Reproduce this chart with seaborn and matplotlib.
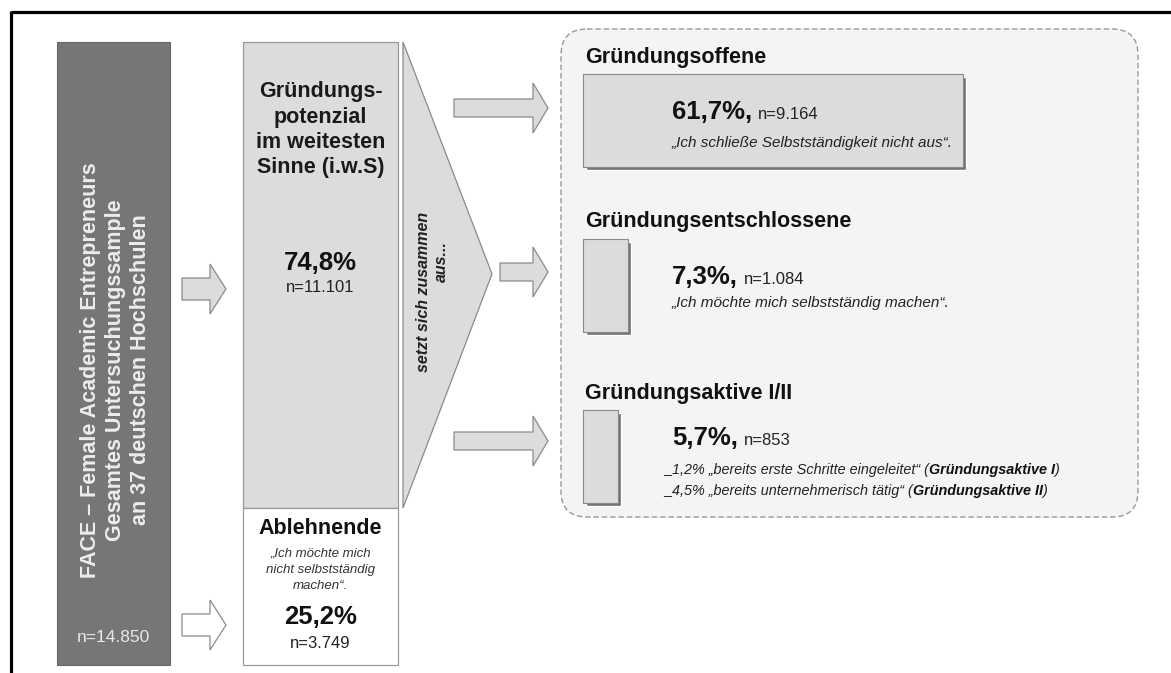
import matplotlib
matplotlib.use("Agg")
import matplotlib.pyplot as plt
from matplotlib.patches import Polygon, FancyBboxPatch
import seaborn as sns

# values
sample_lines = ["FACE – Female Academic Entrepreneurs",
                "Gesamtes Untersuchungssample",
                "an 37 deutschen Hochschulen"]
total_n = "14.850"

potential_lines = ["Gründungs-", "potenzial", "im weitesten", "Sinne (i.w.S)"]
potential_pct = 74.8
potential_n = "11.101"

reject_label = "Ablehnende"
reject_quote = ["„Ich möchte mich", "nicht selbstständig", "machen“."]
reject_pct = 25.2
reject_n = "3.749"

link_lines = ["setzt sich zusammen", "aus..."]

groups = ["Gründungsoffene", "Gründungsentschlossene", "Gründungsaktive I/II"]
group_pct = [61.7, 7.3, 5.7]
group_n = ["9.164", "1.084", "853"]
group_quotes = ["„Ich schließe Selbstständigkeit nicht aus“.",
                "„Ich möchte mich selbstständig machen“."]
active_pct = [1.2, 4.5]
active_text = ["„bereits erste Schritte eingeleitet“", "„bereits unternehmerisch tätig“"]
active_names = ["Gründungsaktive I", "Gründungsaktive II"]


def fmt(v):
    return f"{v:.1f}".replace(".", ",") + "%"


sns.set_theme(style="white")
plt.rcParams["font.family"] = ["Liberation Sans", "DejaVu Sans"]

dark, light, shade = "#767676", "#dcdcdc", "#727272"

fig = plt.figure(figsize=(11.71, 6.73), dpi=100)
ax = fig.add_axes([0, 0, 1, 1])
ax.set_xlim(0, 1171)
ax.set_ylim(673, 0)
ax.axis("off")

# outer frame (top + left)
ax.plot([11, 1171], [12, 12], color="black", lw=2.3, solid_capstyle="butt")
ax.plot([11, 11], [11, 673], color="black", lw=2.3, solid_capstyle="butt")

# column heights scale with the shares
col_top, col_h = 42, 623
px = col_h / 100

# dark sample column (100%)
ax.bar(113.5, 100 * px, bottom=col_top, width=113, color=dark, edgecolor="#666666", lw=0.8)
for i, line in enumerate(sample_lines):
    ax.text(91 + i * 24.5, 370, line, rotation=90, ha="center", va="center",
            color="#ececec", fontsize=15.5, fontweight="bold")
ax.text(113.5, 637, "n=" + total_n, ha="center", va="center", color="#e8e8e8", fontsize=12.5)


def arrow(x0, x1, cy, shaft, head, hlen, fc):
    pts = [(x0, cy - shaft), (x1 - hlen, cy - shaft), (x1 - hlen, cy - head), (x1, cy),
           (x1 - hlen, cy + head), (x1 - hlen, cy + shaft), (x0, cy + shaft)]
    ax.add_patch(Polygon(pts, closed=True, fc=fc, ec="#8a8a8a", lw=0.9))


arrow(182, 226, 289, 11, 25, 16, light)
arrow(182, 226, 625, 11, 25, 16, "white")

# middle column: stacked shares
h_pot = potential_pct * px
h_rej = reject_pct * px
ax.bar(320.5, h_pot, bottom=col_top, width=155, color=light, edgecolor="#999999", lw=0.9)
ax.bar(320.5, h_rej, bottom=col_top + h_pot, width=155, color="white", edgecolor="#999999", lw=0.9)

for i, line in enumerate(potential_lines):
    ax.text(320.5, 92 + i * 25.3, line, ha="center", va="center", fontsize=15.5,
            fontweight="bold", color="#1a1a1a")
ax.text(320.5, 263, fmt(potential_pct), ha="center", va="center", fontsize=18.5,
        fontweight="bold", color="#111111")
ax.text(320.5, 288, "n=" + potential_n, ha="center", va="center", fontsize=12, color="#222222")

ax.text(320.5, 528, reject_label, ha="center", va="center", fontsize=15.5,
        fontweight="bold", color="#111111")
for i, line in enumerate(reject_quote):
    ax.text(320.5, 553 + i * 16.5, line, ha="center", va="center", fontsize=9.5,
            style="italic", color="#333333")
ax.text(320.5, 617, fmt(reject_pct), ha="center", va="center", fontsize=18.5,
        fontweight="bold", color="#111111")
ax.text(320.5, 643, "n=" + reject_n, ha="center", va="center", fontsize=12, color="#222222")

# "setzt sich zusammen aus..." wedge
ax.add_patch(Polygon([(403, col_top), (492, 274), (403, col_top + h_pot)], closed=True,
                     fc=light, ec="#8a8a8a", lw=0.9))
ax.text(424, 292, link_lines[0], rotation=90, ha="center", va="center", fontsize=11.5,
        fontweight="bold", style="italic", color="#222222")
ax.text(441, 262, link_lines[1], rotation=90, ha="center", va="center", fontsize=11.5,
        fontweight="bold", style="italic", color="#222222")

# right panel
ax.add_patch(FancyBboxPatch((561, 29), 1138 - 561, 517 - 29,
                            boxstyle="round,pad=0,rounding_size=26",
                            fc="#f4f4f4", ec="#9a9a9a", lw=1.0, ls=(0, (4, 2))))

row_y = [120, 285.5, 456.5]
arrow(454, 548, 108, 9, 25, 15, light)
arrow(500, 548, 272, 9, 25, 15, light)
arrow(454, 548, 441, 9, 25, 15, light)

widths = [p * 6.16 for p in group_pct]
ax.barh([y + 3 for y in row_y], widths, left=586, height=93, color=shade, zorder=2)
ax.barh(row_y, widths, left=583, height=93, color=light, edgecolor="#8a8a8a", lw=0.8, zorder=3)

head_y = [58, 222, 393]
for name, hy in zip(groups, head_y):
    ax.text(585, hy, name, ha="left", va="center", fontsize=15.5, fontweight="bold",
            color="#111111", zorder=4)

pct_base = [119, 284, 445]
for p, n, by in zip(group_pct, group_n, pct_base):
    t = ax.text(672, by, fmt(p) + ",", ha="left", va="baseline", fontsize=18.5,
                fontweight="bold", color="#111111", zorder=4)
    ax.annotate("n=" + n, xy=(1, by), xycoords=(t, "data"), xytext=(4, 0),
                textcoords="offset points", ha="left", va="baseline", fontsize=12,
                color="#222222", zorder=4)

for q, qy in zip(group_quotes, [143, 303]):
    ax.text(672, qy, q, ha="left", va="center", fontsize=11, style="italic",
            color="#222222", zorder=4)

for i, (p, txt, nm) in enumerate(zip(active_pct, active_text, active_names)):
    yy = 470 + i * 21
    t = ax.text(664, yy, "_" + fmt(p) + " " + txt + " (", ha="left", va="center",
                fontsize=10.4, style="italic", color="#222222", zorder=4)
    t2 = ax.annotate(nm, xy=(1, yy), xycoords=(t, "data"), ha="left", va="center",
                     fontsize=10.4, style="italic", fontweight="bold", color="#111111", zorder=4)
    ax.annotate(")", xy=(1, yy), xycoords=(t2, "data"), ha="left", va="center",
                fontsize=10.4, style="italic", color="#222222", zorder=4)

fig.savefig("out.png", dpi=100, facecolor="white")
